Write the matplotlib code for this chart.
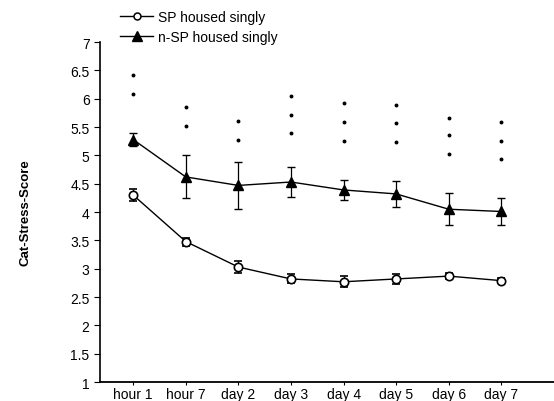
import matplotlib
matplotlib.use("Agg")
from matplotlib import pyplot as plt
from matplotlib.lines import Line2D
import numpy as np

plt.rcParams['font.family'] = ['Liberation Sans', 'DejaVu Sans']

# data
times = ['hour 1', 'hour 7', 'day 2', 'day 3', 'day 4', 'day 5', 'day 6', 'day 7']
sp_mean = [4.30, 3.48, 3.03, 2.82, 2.77, 2.82, 2.87, 2.79]
sp_err = [0.10, 0.07, 0.10, 0.08, 0.10, 0.09, 0.05, 0.04]
nsp_mean = [5.28, 4.62, 4.47, 4.53, 4.39, 4.32, 4.05, 4.01]
nsp_err = [0.11, 0.38, 0.41, 0.27, 0.18, 0.23, 0.28, 0.23]
# significance marks (one list of heights per time point)
sig_marks = [
    [6.42, 6.08],
    [5.86, 5.52],
    [5.60, 5.28],
    [6.04, 5.71, 5.39],
    [5.92, 5.59, 5.26],
    [5.89, 5.57, 5.23],
    [5.66, 5.36, 5.02],
    [5.59, 5.26, 4.94],
]

fig = plt.figure(figsize=(5.54, 4.02), dpi=100)
ax = fig.add_axes([0.1805, 0.047, 0.8195, 0.846])

x = np.arange(len(times))
ax.errorbar(x, sp_mean, yerr=sp_err, color='black', lw=1.0, marker='o',
            mfc='white', mec='black', ms=6, mew=1.2, capsize=3, elinewidth=0.9,
            zorder=3)
ax.errorbar(x, nsp_mean, yerr=nsp_err, color='black', lw=1.0, marker='^',
            mfc='black', mec='black', ms=7, capsize=3, elinewidth=0.9,
            zorder=3)

for i, heights in enumerate(sig_marks):
    ax.plot([x[i]] * len(heights), heights, ls='none', marker='o', ms=1.8,
            color='black')

ax.set_xlim(-0.63, 8.0)
ax.set_ylim(1, 7)
ax.set_yticks(np.arange(1, 7.01, 0.5))
ax.set_yticklabels(['1', '1.5', '2', '2.5', '3', '3.5', '4', '4.5', '5',
                    '5.5', '6', '6.5', '7'])
ax.set_xticks(x)
ax.set_xticklabels(times)
ax.tick_params(axis='both', labelsize=10, width=0.8, color='black')
ax.tick_params(axis='y', length=4)
ax.tick_params(axis='x', length=2, pad=1.5)
ax.spines['top'].set_visible(False)
ax.spines['right'].set_visible(False)
ax.spines['left'].set_linewidth(1.2)
ax.spines['bottom'].set_linewidth(1.3)

ax.set_ylabel('Cat-Stress-Score', fontsize=9.5, fontweight='bold', labelpad=28)

handles = [
    Line2D([], [], color='black', lw=1.0, marker='o', mfc='white',
           mec='black', ms=5, mew=1.1),
    Line2D([], [], color='black', lw=1.0, marker='^', mfc='black',
           mec='black', ms=7),
]
labels = ['SP housed singly', 'n-SP housed singly']
fig.legend(handles, labels, loc='upper left', bbox_to_anchor=(0.2166, 0.972),
           frameon=False, fontsize=10, handlelength=2.4, handletextpad=0.35,
           labelspacing=0.38, borderaxespad=0, borderpad=0)

fig.savefig('out.png', dpi=100)
